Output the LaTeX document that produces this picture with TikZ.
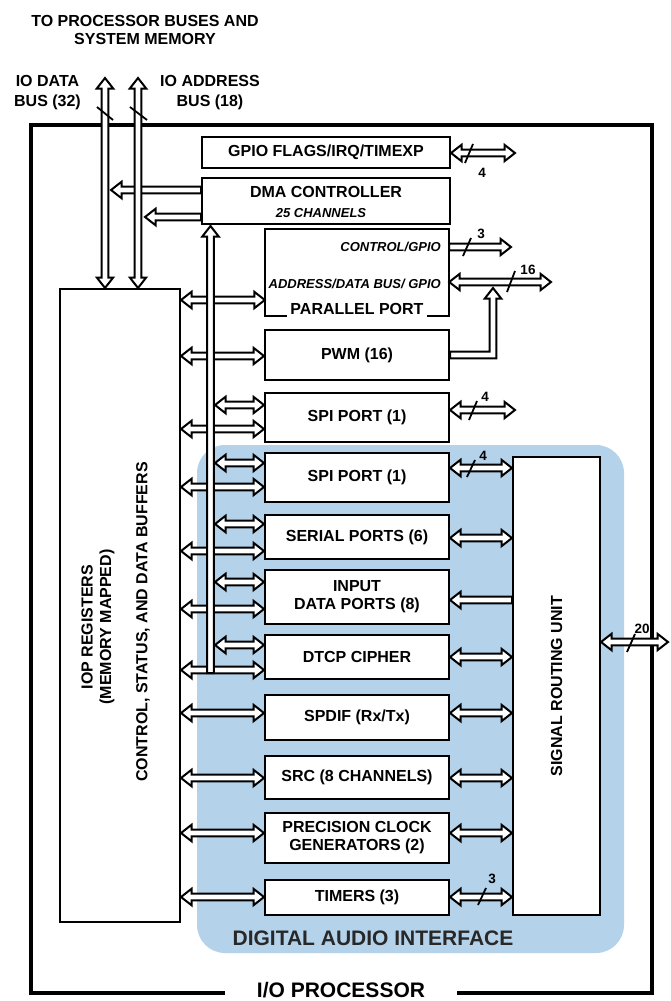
\documentclass[tikz,border=0pt]{standalone}
\usepackage{fontspec}
\setmainfont{Liberation Sans}
\usetikzlibrary{calc}
\definecolor{daiblue}{RGB}{180,211,235}
\definecolor{daitext}{RGB}{40,40,40}
\newcommand\arrL{10.5pt}
\newcommand\arrH{8.2pt}
\newcommand\arrS{3.4pt}
\tikzset{
 lab/.style={font=\fontsize{16}{18}\selectfont\bfseries},
 ital/.style={font=\fontsize{13}{15}\selectfont\bfseries\itshape, inner sep=0},
 num/.style={font=\fontsize{13.5}{15}\selectfont\bfseries, inner sep=0},
 box/.style={draw, line width=2pt, fill=white, inner sep=0, lab, align=center},
 arr/.style={draw, line width=2pt, fill=white, line join=miter, miter limit=4},
 slash/.style={line width=1.8pt},
}
% double-headed horizontal arrow: left point, right point, y
\newcommand\dblH[3]{\path[arr] let \p1=(#1), \p2=(#2), \p3=(0,#3) in
 (\x1,\y3) -- ({\x1+\arrL},{\y3+\arrH}) -- ({\x1+\arrL},{\y3+\arrS}) -- ({\x2-\arrL},{\y3+\arrS})
 -- ({\x2-\arrL},{\y3+\arrH}) -- (\x2,\y3) -- ({\x2-\arrL},{\y3-\arrH}) -- ({\x2-\arrL},{\y3-\arrS})
 -- ({\x1+\arrL},{\y3-\arrS}) -- ({\x1+\arrL},{\y3-\arrH}) -- cycle;}
% head at right only
\newcommand\rgtH[3]{\path[arr] let \p1=(#1), \p2=(#2), \p3=(0,#3) in
 (\x1,{\y3+\arrS}) -- ({\x2-\arrL},{\y3+\arrS}) -- ({\x2-\arrL},{\y3+\arrH}) -- (\x2,\y3)
 -- ({\x2-\arrL},{\y3-\arrH}) -- ({\x2-\arrL},{\y3-\arrS}) -- (\x1,{\y3-\arrS}) -- cycle;}
% head at left only
\newcommand\lftH[3]{\path[arr] let \p1=(#1), \p2=(#2), \p3=(0,#3) in
 (\x1,\y3) -- ({\x1+\arrL},{\y3+\arrH}) -- ({\x1+\arrL},{\y3+\arrS}) -- (\x2,{\y3+\arrS})
 -- (\x2,{\y3-\arrS}) -- ({\x1+\arrL},{\y3-\arrS}) -- ({\x1+\arrL},{\y3-\arrH}) -- cycle;}
% double-headed vertical arrow: top point, bottom point (x from top)
\newcommand\dblV[2]{\path[arr] let \p1=(#1), \p2=(#2) in
 (\x1,\y1) -- ({\x1+\arrH},{\y1-\arrL}) -- ({\x1+\arrS},{\y1-\arrL}) -- ({\x1+\arrS},{\y2+\arrL})
 -- ({\x1+\arrH},{\y2+\arrL}) -- (\x1,\y2) -- ({\x1-\arrH},{\y2+\arrL}) -- ({\x1-\arrS},{\y2+\arrL})
 -- ({\x1-\arrS},{\y1-\arrL}) -- ({\x1-\arrH},{\y1-\arrL}) -- cycle;}
\begin{document}
\begin{tikzpicture}[x=1pt,y=-1pt]
\useasboundingbox (0,0) rectangle (671,1001);
% outer frame
\draw[line width=4.5pt] (225,993) -- (31,993) -- (31,125) -- (652,125) -- (652,993) -- (457,993);
\node[inner sep=0, font=\fontsize{21}{24}\selectfont\bfseries] (iotitle) at (341,990.5) {I/O PROCESSOR};
% digital audio interface region
\fill[daiblue, rounded corners=28pt] (197,445) rectangle (624,953);
\node[font=\fontsize{21}{24}\selectfont\bfseries, text=daitext] (dai) at (373,938) {DIGITAL AUDIO INTERFACE};
% top labels
\node[inner sep=0, align=center, font=\fontsize{16}{17.5}\selectfont\bfseries] (toplab) at (145,30) {TO PROCESSOR BUSES AND\\SYSTEM MEMORY};
\node[align=center, font=\fontsize{16}{20}\selectfont\bfseries] (iodata) at (47.5,93) {IO DATA\\BUS (32)};
\node[align=center, font=\fontsize{16}{20}\selectfont\bfseries] (ioaddr) at (210,93) {IO ADDRESS\\BUS (18)};
% boxes
\node[box, minimum width=248pt, minimum height=31pt] (gpio) at (326,152.5) {GPIO FLAGS/IRQ/TIMEXP};
\node[box, minimum width=248pt, minimum height=46pt] (dma) at (326,201) {};
\node[lab] (dmat) at (326,192) {DMA CONTROLLER};
\node[ital] (dmac) at (321,213) {25 CHANNELS};
\node[inner sep=0, minimum width=184pt, minimum height=87pt] (par) at (357,272.5) {};
\draw[line width=2pt] ([xshift=22pt]par.south west) -- (par.south west) -- (par.north west) -- (par.north east) -- (par.south east) -- ([xshift=-22pt]par.south east);
\node[ital, anchor=east] (parc) at (441,247) {CONTROL/GPIO};
\node[ital, anchor=east] (para) at (441,284) {ADDRESS/DATA BUS/ GPIO};
\node[lab] (part) at (357,309) {PARALLEL PORT};
\node[box, minimum width=184pt, minimum height=50pt] (pwm) at (357,355) {PWM (16)};
\node[box, minimum width=184pt, minimum height=49pt] (spia) at (357,417.5) {SPI PORT (1)};
\node[box, minimum width=184pt, minimum height=49pt] (spib) at (357,477.5) {SPI PORT (1)};
\node[box, minimum width=184pt, minimum height=44pt] (ser) at (357,537) {SERIAL PORTS (6)};
\node[box, minimum width=184pt, minimum height=54pt] (inp) at (357,597) {INPUT\\DATA PORTS (8)};
\node[box, minimum width=184pt, minimum height=44pt] (dtcp) at (357,657) {DTCP CIPHER};
\node[box, minimum width=184pt, minimum height=45pt] (spdif) at (357,717.5) {SPDIF (Rx/Tx)};
\node[box, minimum width=184pt, minimum height=43pt] (src) at (357,777.5) {SRC (8 CHANNELS)};
\node[box, minimum width=184pt, minimum height=50pt] (pcg) at (357,838) {PRECISION CLOCK\\GENERATORS (2)};
\node[box, minimum width=184pt, minimum height=35pt] (tim) at (357,897.5) {TIMERS (3)};
\node[box, minimum width=87pt, minimum height=458pt] (sru) at (556.5,686) {};
\node[lab, rotate=90] (srut) at (556.5,686) {SIGNAL ROUTING UNIT};
\node[box, minimum width=120pt, minimum height=633pt] (iop) at (120,605.5) {};
\node[lab, rotate=90] (iopa) at (87,627) {IOP REGISTERS};
\node[lab, rotate=90] (iopb) at (107,627) {(MEMORY MAPPED)};
\node[lab, rotate=90] (iopc) at (143,622) {CONTROL, STATUS, AND DATA BUFFERS};
% coordinates
\coordinate (dtip) at (111,190);
\coordinate (atip) at (145,217);
\coordinate (dbtop) at (105,78);
\coordinate (abtop) at (138,78);
\coordinate (bus) at (215,0);
\coordinate (bustop) at (210.5,226);
\coordinate (busbot) at (210.5,673);
\coordinate (gpioend) at (515,0);
\coordinate (ctrlend) at (511,0);
\coordinate (addrend) at (551,0);
\coordinate (spiaend) at (515,0);
\coordinate (sruend) at (668,0);
\coordinate (pwmtip) at (493,288);
% DMA to buses
\lftH{dtip}{dma.west}{190}
\lftH{atip}{dma.west}{217}
% IO data / address buses
\dblV{dbtop}{iop.north -| dbtop}
\dblV{abtop}{iop.north -| abtop}
\draw[slash] (97,107) -- (113,120);
\draw[slash] (130,107) -- (147,120);
% IOP to ports (long)
\dblH{iop.east}{par.west}{300}
\dblH{iop.east}{pwm.west}{356}
\dblH{iop.east}{spia.west}{429}
\dblH{iop.east}{spib.west}{487}
\dblH{iop.east}{ser.west}{551}
\dblH{iop.east}{inp.west}{609}
\dblH{iop.east}{dtcp.west}{670}
\dblH{iop.east}{spdif.west}{713}
\dblH{iop.east}{src.west}{778}
\dblH{iop.east}{pcg.west}{833}
\dblH{iop.east}{tim.west}{897}
% DMA bus
\path[arr] let \p1=(bustop), \p2=(busbot) in
 (\x1,\y1) -- ({\x1+\arrH},{\y1-\arrL}) -- ({\x1+\arrS},{\y1-\arrL}) -- ({\x1+\arrS},\y2)
 -- ({\x1-\arrS},\y2) -- ({\x1-\arrS},{\y1-\arrL}) -- ({\x1-\arrH},{\y1-\arrL}) -- cycle;
% bus to ports (short)
\dblH{bus}{spia.west}{405}
\dblH{bus}{spib.west}{463}
\dblH{bus}{ser.west}{524}
\dblH{bus}{inp.west}{582}
\dblH{bus}{dtcp.west}{645}
% right side
\dblH{gpio.east}{gpioend}{153}
\rgtH{par.east}{ctrlend}{247}
\dblH{par.east}{addrend}{282}
\path[arr] let \p1=(pwm.east), \p2=(pwmtip) in
 (\x1,{\y1+\arrS}) -- ({\x2-\arrS},{\y1+\arrS}) -- ({\x2-\arrS},{\y2-\arrL}) -- ({\x2-\arrH},{\y2-\arrL})
 -- (\x2,\y2) -- ({\x2+\arrH},{\y2-\arrL}) -- ({\x2+\arrS},{\y2-\arrL}) -- ({\x2+\arrS},{\y1-\arrS})
 -- (\x1,{\y1-\arrS}) -- cycle;
\dblH{spia.east}{spiaend}{410}
\dblH{spib.east}{sru.west}{468}
\dblH{ser.east}{sru.west}{538}
\lftH{inp.east}{sru.west}{600}
\dblH{dtcp.east}{sru.west}{657}
\dblH{spdif.east}{sru.west}{713}
\dblH{src.east}{sru.west}{778}
\dblH{pcg.east}{sru.west}{833}
\dblH{tim.east}{sru.west}{897}
\dblH{sru.east}{sruend}{642}
% bus width marks
\draw[slash] (465,163) -- (473,144);
\node[num] (n4a) at (482,173) {4};
\draw[slash] (463,256) -- (471,238);
\node[num] (n3a) at (481,234) {3};
\draw[slash] (507,292) -- (515,271);
\node[num] (n16) at (528,270) {16};
\draw[slash] (469,420) -- (477,401);
\node[num] (n4b) at (485,397) {4};
\draw[slash] (467,477) -- (475,460);
\node[num] (n4c) at (483,456) {4};
\draw[slash] (478,905) -- (486,888);
\node[num] (n3b) at (492,879) {3};
\draw[slash] (627,652) -- (635,634);
\node[num] (n20) at (642,629) {20};
\end{tikzpicture}
\end{document}
